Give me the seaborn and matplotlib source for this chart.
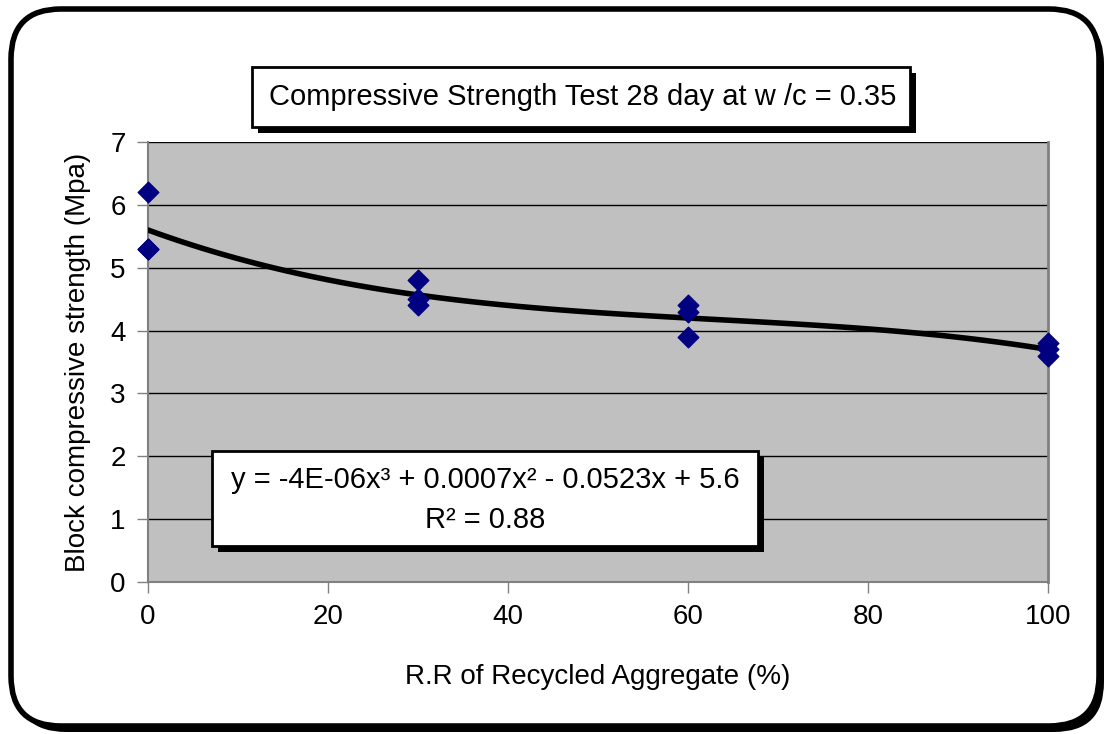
import numpy as np
import pandas as pd
import matplotlib
matplotlib.use("Agg")
import matplotlib.pyplot as plt
import seaborn as sns
from matplotlib.patches import FancyBboxPatch, Rectangle

# ---- data ----
replacement = [0, 0, 0, 30, 30, 30, 60, 60, 60, 100, 100, 100]
strength = [6.2, 5.3, 5.3, 4.8, 4.5, 4.4, 4.4, 4.3, 3.9, 3.8, 3.7, 3.6]
x_ticks = [0, 20, 40, 60, 80, 100]
y_ticks = [0, 1, 2, 3, 4, 5, 6, 7]
title_text = "Compressive Strength Test 28 day at w /c = 0.35"
eq_text = "y = -4E-06x³ + 0.0007x² - 0.0523x + 5.6"
r2_text = "R² = 0.88"
xlabel = "R.R of Recycled Aggregate (%)"
ylabel = "Block compressive strength (Mpa)"

df = pd.DataFrame({"x": replacement, "y": strength})

sns.set_theme(style="white")
plt.rcParams["font.family"] = ["Liberation Sans", "DejaVu Sans"]
plt.rcParams["text.color"] = "black"
plt.rcParams["axes.labelcolor"] = "black"

W, H = 1109, 734
fig = plt.figure(figsize=(W / 100, H / 100), dpi=100)

def fx(px):
    return px / W

def fy(py):
    return 1 - py / H

# outer rounded border with shadow
shadow = FancyBboxPatch((fx(16), fy(732)), fx(1104) - fx(16), fy(14) - fy(732),
                        boxstyle="round,pad=0,rounding_size=0.045", transform=fig.transFigure,
                        facecolor="black", edgecolor="black", lw=0, zorder=0, mutation_aspect=W / H)
fig.patches.append(shadow)
outer = FancyBboxPatch((fx(11), fy(726)), fx(1099) - fx(11), fy(9) - fy(726),
                       boxstyle="round,pad=0,rounding_size=0.045", transform=fig.transFigure,
                       facecolor="white", edgecolor="black", lw=4, zorder=1, mutation_aspect=W / H)
fig.patches.append(outer)

ax = fig.add_axes([fx(148), fy(582), fx(1048) - fx(148), fy(142) - fy(582)])
ax.set_zorder(2)
ax.set_facecolor("#C0C0C0")

sns.regplot(data=df, x="x", y="y", order=3, ci=None, ax=ax, truncate=True, marker="D",
            scatter_kws=dict(s=110, color="#000080", edgecolors="#000080", alpha=1, zorder=4, clip_on=False),
            line_kws=dict(color="black", lw=4, zorder=3))

ax.set_xlim(0, 100)
ax.set_ylim(0, 7)
ax.set_xticks(x_ticks)
ax.set_yticks(y_ticks)
ax.yaxis.grid(True, color="black", lw=1)
ax.set_axisbelow(True)
for s in ["left", "bottom"]:
    ax.spines[s].set_color("#808080")
    ax.spines[s].set_linewidth(1.5)
ax.spines["top"].set_visible(False)
ax.spines["right"].set_color("#808080")
ax.spines["right"].set_linewidth(2)
ax.tick_params(axis="both", direction="out", length=8, width=1, color="#808080",
               labelsize=20, labelcolor="black", pad=8, left=True, bottom=True)
ax.set_xlabel(xlabel, fontsize=20, labelpad=24, color="black")
ax.set_ylabel(ylabel, fontsize=20, labelpad=14, color="black")

# boxes with shadow
def shadow_box(x0, y0, x1, y1, off=6):
    fig.patches.append(Rectangle((fx(x0 + off), fy(y1 + off)), fx(x1) - fx(x0), fy(y0) - fy(y1),
                                 transform=fig.transFigure, facecolor="black", edgecolor="black",
                                 lw=0, zorder=5))
    fig.patches.append(Rectangle((fx(x0), fy(y1)), fx(x1) - fx(x0), fy(y0) - fy(y1),
                                 transform=fig.transFigure, facecolor="white", edgecolor="black",
                                 lw=2, zorder=6))

shadow_box(252, 67, 910, 127)
fig.text(fx(583), fy(97), title_text, ha="center", va="center", fontsize=21, color="black", zorder=7)

shadow_box(212, 451, 758, 546)
fig.text(fx(485), fy(480), eq_text, ha="center", va="center", fontsize=21, color="black", zorder=7)
fig.text(fx(485), fy(520), r2_text, ha="center", va="center", fontsize=21, color="black", zorder=7)

fig.savefig("out.png", dpi=100)
